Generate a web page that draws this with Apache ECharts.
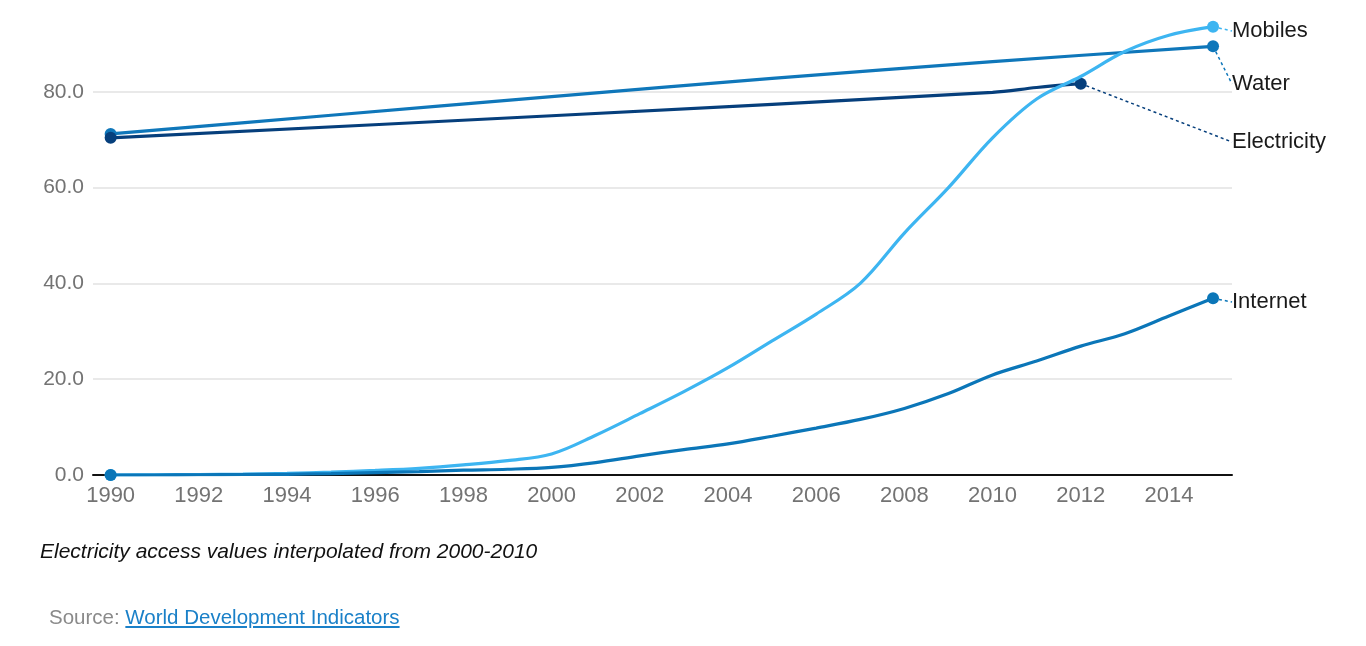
<!DOCTYPE html>
<html>
<head>
<meta charset="utf-8">
<script src="https://cdn.jsdelivr.net/npm/echarts@6/dist/echarts.min.js"></script>
<style>
  html, body { margin: 0; padding: 0; background: #fff; }
  #wrap { position: relative; width: 1366px; height: 646px; overflow: hidden; background: #fff; }
  #chart { position: absolute; left: 0; top: -4px; width: 1366px; height: 650px; }
  .note {
    position: absolute; left: 40px; top: 539px;
    font: italic 21px "Liberation Sans", Arial, sans-serif; color: #111;
  }
  .source {
    position: absolute; left: 49px; top: 605px;
    font: 20.5px "Liberation Sans", Arial, sans-serif; color: #8a8a8a;
  }
  .source a { color: #1a80c8; text-decoration: underline; }
</style>
</head>
<body>
<div id="wrap">
  <div id="chart"></div>
  <div class="note">Electricity access values interpolated from 2000-2010</div>
  <div class="source">Source: <a href="#">World Development Indicators</a></div>
</div>
<script>
const years = [1990, 1991, 1992, 1993, 1994, 1995, 1996, 1997, 1998, 1999,
  2000, 2001, 2002, 2003, 2004, 2005, 2006, 2007, 2008, 2009,
  2010, 2011, 2012, 2013, 2014, 2015]
const mobiles = [0, 0.05, 0.1, 0.2, 0.35, 0.6, 0.95, 1.4, 2.1, 3.0,
  4.4, 8.3, 12.8, 17.4, 22.4, 28.0, 33.6, 40.0, 50.5, 60.0,
  70.4, 78.5, 83.2, 88.4, 91.8, 93.6]
const internet = [0, 0, 0.05, 0.1, 0.15, 0.3, 0.5, 0.7, 1.0, 1.2,
  1.6, 2.6, 4.0, 5.3, 6.5, 8.1, 9.8, 11.6, 13.9, 17.0,
  20.9, 23.8, 26.9, 29.5, 33.2, 36.9]
const waterYears = [1990, 1995, 2000, 2005, 2010, 2015]
const water = [71.2, 75.1, 79.0, 82.8, 86.3, 89.5]
const elecYears = [1990, 2000, 2010, 2011, 2012]
const electricity = [70.4, 75.0, 79.9, 80.9, 81.7]
const xLabels = [1990, 1992, 1994, 1996, 1998, 2000, 2002, 2004, 2006, 2008, 2010, 2012, 2014]

const FONT = '"Liberation Sans", Arial, sans-serif'
const LABEL_X = 1232
// chart div is shifted up 4px, so add 4 to page y
const LABEL_Y = { Mobiles: 35, Water: 88, Electricity: 146, Internet: 306 }

function makeSeries(name, xs, ys, color, z) {
  const last = xs.length - 1
  return {
    name: name,
    type: 'line',
    z: z,
    smooth: 0.35,
    lineStyle: { color: color, width: 3.2 },
    itemStyle: { color: color },
    symbol: 'circle',
    symbolSize: 12,
    showSymbol: true,
    label: { show: false },
    data: xs.map((x, i) => {
      const pt = { value: [x, ys[i]] }
      if (i !== 0 && i !== last) pt.symbol = 'none'
      if (i === last) {
        pt.label = {
          show: true,
          formatter: name,
          fontSize: 22,
          fontFamily: FONT,
          color: '#1a1a1a'
        }
        pt.labelLine = {
          show: true,
          lineStyle: { color: color, width: 1.5, type: [3, 3] }
        }
      }
      return pt
    }),
    labelLayout: function () {
      return { x: LABEL_X, y: LABEL_Y[name], align: 'left', verticalAlign: 'middle' }
    },
    animation: false
  }
}

const chart = echarts.init(document.getElementById('chart'))
chart.setOption({
  backgroundColor: '#fff',
  grid: { left: 93, right: 134, top: 0, bottom: 171 },
  xAxis: {
    type: 'value',
    min: 1989.6,
    max: 2015.43,
    axisLine: { show: true, onZero: true, lineStyle: { color: '#111', width: 2 } },
    axisTick: { show: false },
    splitLine: { show: false },
    axisLabel: {
      customValues: xLabels,
      color: '#737373',
      fontSize: 22,
      fontFamily: FONT,
      margin: 10,
      formatter: v => String(v)
    }
  },
  yAxis: {
    type: 'value',
    min: 0,
    max: 100,
    interval: 20,
    axisLine: { show: false },
    axisTick: { show: false },
    splitLine: { lineStyle: { color: '#e2e2e2', width: 1.5 } },
    axisLabel: {
      color: '#737373',
      fontSize: 21,
      fontFamily: FONT,
      margin: 9,
      showMaxLabel: false,
      formatter: v => v.toFixed(1)
    }
  },
  series: [
    makeSeries('Water', waterYears, water, '#0f77ba', 2),
    makeSeries('Electricity', elecYears, electricity, '#063f7c', 3),
    makeSeries('Mobiles', years, mobiles, '#3db5f1', 4),
    makeSeries('Internet', years, internet, '#0b76b8', 5)
  ]
})
</script>
</body>
</html>
